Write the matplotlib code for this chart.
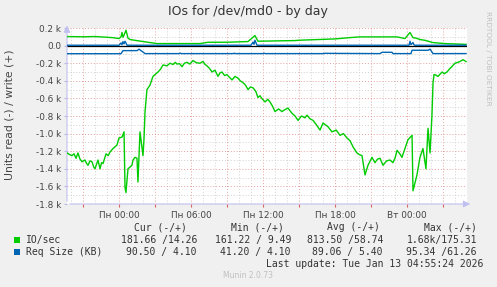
import matplotlib
matplotlib.use("Agg")
import matplotlib.pyplot as plt
from matplotlib.patches import Rectangle
from matplotlib.ticker import FixedLocator

# ---- data (hours relative to Mon 00:00) ----
read_io_t = [-4.33, -4.1, -3.92, -3.75, -3.58, -3.42, -3.25, -3.08, -2.83, -2.7, -2.58, -2.42, -2.25, -2.1, -2.0,
             -1.75, -1.58, -1.45, -1.33, -1.08, -0.9, -0.75, -0.5, -0.17, 0.0, 0.25, 0.42, 0.5, 0.58, 0.75,
             1.08, 1.17, 1.33, 1.5, 1.58, 1.75, 2.0, 2.08, 2.17, 2.25, 2.33, 2.58, 2.83, 3.0, 3.25, 3.45, 3.67, 4.0,
             4.25, 4.5, 4.7, 4.83, 5.05, 5.25, 5.45, 5.67, 5.9, 6.17, 6.45, 6.75, 7.0, 7.17, 7.33, 7.55, 7.75, 8.0,
             8.25, 8.42, 8.58, 8.8, 9.0, 9.2, 9.42, 9.67, 9.92, 10.1, 10.33, 10.55, 10.75, 10.95, 11.17, 11.4,
             11.58, 11.75, 11.9, 12.17, 12.4, 12.58, 12.8, 13.0, 13.3, 13.58, 13.8, 14.08, 14.25, 14.42,
             14.67, 14.92, 15.2, 15.5, 15.67, 15.9, 16.17, 16.45, 16.75, 17.0, 17.2, 17.4, 17.75, 18.1, 18.42,
             18.7, 19.0, 19.25, 19.5, 19.83, 20.05, 20.25, 20.5, 20.75, 21.08, 21.33, 21.55, 21.75, 22.0, 22.3,
             22.58, 22.83, 23.0, 23.17, 23.4, 23.58, 23.83, 24.08, 24.42, 24.5, 24.83, 25.08, 25.33, 25.58,
             25.75, 25.92, 26.08, 26.17, 26.25, 26.33, 26.58, 26.92, 27.1, 27.33, 27.58, 27.8, 28.0, 28.25,
             28.42, 28.67, 28.92]
read_io_v = [1220, 1240, 1250, 1230, 1280, 1220, 1290, 1320, 1300, 1340, 1360, 1310, 1320, 1380, 1400,
             1300, 1400, 1330, 1340, 1230, 1250, 1210, 1170, 1130, 1050, 1040, 980, 1610, 1670, 1400,
             1360, 1300, 1270, 1280, 1550, 980, 1250, 1070, 750, 620, 500, 450, 350, 330, 300, 270, 220, 230,
             200, 215, 190, 210, 205, 240, 200, 190, 210, 170, 195, 200, 180, 215, 230, 260, 300, 280,
             350, 310, 300, 340, 330, 360, 390, 350, 370, 400, 420, 450, 500, 470, 480, 520,
             590, 570, 600, 640, 610, 640, 690, 750, 720, 750, 730, 710, 740, 770,
             800, 850, 800, 820, 790, 830, 850, 900, 960, 880, 900, 920, 980, 960, 1020,
             1000, 1050, 1080, 1150, 1220, 1240, 1250, 1470, 1360, 1270, 1330, 1290, 1280, 1360, 1310,
             1300, 1330, 1280, 1190, 1230, 1270, 1170, 1070, 1020, 1650, 1470, 1270, 1170, 1400,
             940, 1220, 790, 420, 330, 330, 350, 300, 320, 300, 260, 230, 200, 190,
             180, 160, 182]

write_io_t = [-4.33, -3.0, -2.0, -1.0, -0.5, 0.0, 0.17, 0.25, 0.33, 0.42, 0.58, 0.75, 0.92, 2.0, 3.17,
              6.75, 7.42, 9.0, 10.75, 11.33, 11.58, 14.67, 15.0, 18.0, 19.25, 20.08, 23.17, 23.83,
              24.25, 24.5, 24.75, 25.08, 25.5, 26.17, 27.17, 28.92]
write_io_v = [103, 100, 103, 95, 90, 80, 100, 150, 95, 120, 175, 85, 69, 46, 23,
              23, 38, 38, 46, 114, 50, 57, 61, 76, 91, 99, 99, 80,
              149, 90, 85, 69, 60, 34, 23, 14]

read_req_t = [-4.33, 0.17, 0.33, 1.5, 1.58, 1.67, 1.83, 1.92, 2.17, 5.0, 5.1, 5.2, 9.5, 9.6, 9.7,
              12.0, 12.1, 12.2, 17.0, 17.1, 21.75, 21.92, 22.75, 22.83, 24.33, 24.42, 25.75, 25.92,
              26.17, 28.92]
read_req_v = [92, 92, 57, 57, 50, 41, 57, 65, 91, 91, 86, 91, 91, 87, 91,
              91, 87, 91, 91, 88, 91, 76, 76, 91, 91, 53, 53, 41,
              91, 90.5]

write_req_t = [-4.33, 0.0, 0.17, 0.25, 0.33, 0.42, 0.5, 0.67, 11.0, 11.17, 11.25, 11.33, 11.5,
               24.17, 24.25, 24.33, 24.5, 24.58, 24.67, 28.92]
write_req_v = [4.1, 4.1, 30, 10, 45, 20, 49, 4.1, 4.1, 40, 15, 61, 4.1,
               4.1, 50, 10, 35, 8, 4.1, 4.1]

x_tick_pos = [0, 6, 12, 18, 24]
x_tick_labels = ["Пн 00:00", "Пн 06:00", "Пн 12:00", "Пн 18:00", "Вт 00:00"]

legend_rows = [
    ("IO/sec", "181.66 /14.26", "161.22 / 9.49", "813.50 /58.74", "1.68k/175.31"),
    ("Req Size (KB)", "90.50 / 4.10", "41.20 / 4.10", "89.06 / 5.40", "95.34 /61.26"),
]
series_colors = ["#00CC00", "#0066B3"]

W, H = 497, 287
fig = plt.figure(figsize=(W / 100, H / 100), dpi=100)
fig.patch.set_facecolor("#F0F0F0")
ax = fig.add_axes([67 / W, 1 - 204 / H, 400 / W, 176 / H])
ax.set_facecolor("white")
ax.set_xlim(-4.333, 29.0)
ax.set_ylim(-1800, 200)

# grid
for h in range(-4, 30):
    col = "#E8A0A0" if h % 3 == 0 else "#D0D0D0"
    ax.axvline(h, color=col, lw=0.7, ls=(0, (1, 2)), zorder=1)
for v in range(-1800, 201, 100):
    col = "#E8A0A0" if v % 200 == 0 else "#D0D0D0"
    ax.axhline(v, color=col, lw=0.7, ls=(0, (1, 2)), zorder=1)

ax.axhline(0, color="black", lw=0.9, zorder=3)

ax.plot(read_io_t, [-v for v in read_io_v], color=series_colors[0], lw=1.0, zorder=4)
ax.plot(write_io_t, write_io_v, color=series_colors[0], lw=1.0, zorder=4)
ax.plot(read_req_t, [-v for v in read_req_v], color=series_colors[1], lw=1.0, zorder=4)
ax.plot(write_req_t, write_req_v, color=series_colors[1], lw=1.0, zorder=4)

for s in ax.spines.values():
    s.set_visible(False)

yt = list(range(-1800, 201, 200))
ax.set_yticks(yt)
ax.set_yticklabels(["0.0" if v == 0 else f"{v/1000:.1f} k" for v in yt])
ax.xaxis.set_major_locator(FixedLocator(x_tick_pos))
ax.set_xticklabels(x_tick_labels)
ax.xaxis.set_minor_locator(FixedLocator([h for h in range(-3, 30, 3) if h % 6 != 0]))
ax.tick_params(axis="both", which="both", length=2, width=0.8, labelsize=6.4,
               labelcolor="#444444", pad=2)
ax.tick_params(axis="x", which="both", color="#E06060", pad=3)
ax.tick_params(axis="y", color="#B8B8E8")

# axis lines with arrows
axis_col = "#C0C0F0"
ax.annotate("", xy=(0, 1.03), xytext=(0, 0), xycoords="axes fraction",
            arrowprops=dict(arrowstyle="-|>,head_length=0.4,head_width=0.2", color=axis_col, lw=0.8),
            annotation_clip=False)
ax.annotate("", xy=(1.015, 0), xytext=(0, 0), xycoords="axes fraction",
            arrowprops=dict(arrowstyle="-|>,head_length=0.4,head_width=0.2", color=axis_col, lw=0.8),
            annotation_clip=False)

def fx(x):
    return x / W

def fy(y):
    return 1 - y / H

fig.text(fx(248), fy(12), "IOs for /dev/md0 - by day", ha="center", va="center",
         fontsize=9, color="#333333")
fig.text(fx(10), fy(115), "Units read (-) / write (+)", ha="center", va="center",
         rotation=90, fontsize=7.8, color="#444444")
fig.text(fx(488), fy(58), "RRDTOOL / TOBI OETIKER", ha="center", va="center",
         rotation=270, fontsize=5.3, color="#C0C0C0")

mono = "DejaVu Sans Mono"
fs = 7
headers = ["Cur (-/+)", "Min (-/+)", "Avg (-/+)", "Max (-/+)"]
head_x = [187, 284, 380, 477]
val_x = [197, 291, 383, 477]
for hx, htxt in zip(head_x, headers):
    fig.text(fx(hx), fy(227), htxt, ha="right", va="center", family=mono, fontsize=fs, color="#333333")
for i, row in enumerate(legend_rows):
    yy = 240 + 12 * i
    fig.patches.append(Rectangle((fx(14), fy(yy + 3)), 6 / W, 6 / H, transform=fig.transFigure,
                                 facecolor=series_colors[i], edgecolor="none"))
    fig.text(fx(26), fy(yy), row[0], ha="left", va="center", family=mono, fontsize=fs, color="#333333")
    for vx, vt in zip(val_x, row[1:]):
        fig.text(fx(vx), fy(yy), vt, ha="right", va="center", family=mono, fontsize=fs, color="#333333")
fig.text(fx(483), fy(264), "Last update: Tue Jan 13 04:55:24 2026", ha="right", va="center",
         family=mono, fontsize=fs, color="#333333")
fig.text(fx(248), fy(276), "Munin 2.0.73", ha="center", va="center", fontsize=5.5, color="#C0C0C0")

fig.savefig("out.png", dpi=100, facecolor=fig.get_facecolor())
